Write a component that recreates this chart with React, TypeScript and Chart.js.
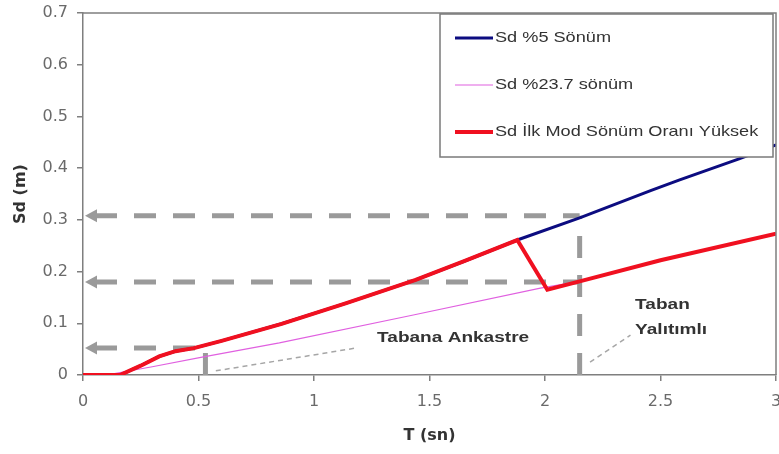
import React, { useEffect, useRef } from 'react';
import { Chart, registerables } from 'chart.js';

Chart.register(...registerables);

// ---- data ----
const seriesLabels = ['Sd %5 Sönüm', 'Sd %23.7 sönüm', 'Sd İlk Mod Sönüm Oranı Yüksek'];

const blueT = [0, 0.16, 0.25, 0.33, 0.4, 0.48, 0.6, 0.86, 1.14, 1.44, 1.65, 1.88, 2.15, 2.46, 2.58, 2.84, 3.0];
const blueSd = [0, 0, 0.018, 0.036, 0.046, 0.052, 0.066, 0.099, 0.139, 0.184, 0.22, 0.261, 0.304, 0.357, 0.377, 0.418, 0.445];

const pinkT = [0, 0.1, 0.3, 0.51, 0.85, 1.43, 1.98, 2.15, 2.5, 3.0];
const pinkSd = [0, 0, 0.016, 0.034, 0.062, 0.116, 0.168, 0.181, 0.222, 0.273];

const redT = [0, 0.16, 0.25, 0.33, 0.4, 0.48, 0.6, 0.86, 1.14, 1.44, 1.65, 1.88, 2.01, 2.15, 2.5, 3.0];
const redSd = [0, 0, 0.018, 0.036, 0.046, 0.052, 0.066, 0.099, 0.139, 0.184, 0.22, 0.261, 0.165, 0.181, 0.222, 0.273];

const xTicks = [0, 0.5, 1, 1.5, 2, 2.5, 3];
const yTicks = [0, 0.1, 0.2, 0.3, 0.4, 0.5, 0.6, 0.7];

// guide arrows (horizontal, pointing to the Sd axis)
const guideSd = [0.308, 0.18, 0.052];
const guideT = [2.15, 2.15, 0.53];
// vertical guides down to the T axis
const dropT = [2.15, 0.53];
const dropSd = [0.308, 0.052];
// notes
const noteLabels = ['Tabana Ankastre', 'Taban', 'Yalıtımlı'];
const noteT = [1.273, 2.39, 2.39];
const noteSd = [0.072, 0.135, 0.087];
// leader lines
const leaderFromT = [0.575, 2.195];
const leaderFromSd = [0.008, 0.025];
const leaderToT = [1.18, 2.37];
const leaderToSd = [0.052, 0.077];

const toPts = (xs: number[], ys: number[]) => xs.map((x, i) => ({ x, y: ys[i] }));
const fmt = (v: number) => String(Number(v.toFixed(2)));

const AXIS = '#7f7f7f';
const GUIDE = '#9a9a9a';

const guidesPlugin = {
  id: 'guides',
  beforeDatasetsDraw(chart: any) {
    const { ctx, chartArea } = chart;
    const x = chart.scales.x;
    const y = chart.scales.y;
    ctx.save();
    ctx.strokeStyle = GUIDE;
    ctx.fillStyle = GUIDE;
    ctx.lineWidth = 5;
    ctx.lineCap = 'butt';
    guideSd.forEach((v, i) => {
      const py = y.getPixelForValue(v);
      const x1 = x.getPixelForValue(guideT[i]);
      const x0 = chartArea.left + 12;
      ctx.setLineDash([22, 17]);
      ctx.beginPath();
      ctx.moveTo(x0, py);
      ctx.lineTo(x1, py);
      ctx.stroke();
      ctx.setLineDash([]);
      ctx.beginPath();
      ctx.moveTo(chartArea.left + 2, py);
      ctx.lineTo(chartArea.left + 14, py - 6.5);
      ctx.lineTo(chartArea.left + 14, py + 6.5);
      ctx.closePath();
      ctx.fill();
    });
    dropT.forEach((t, i) => {
      const px = x.getPixelForValue(t);
      ctx.setLineDash([22, 17]);
      ctx.beginPath();
      ctx.moveTo(px, y.getPixelForValue(0));
      ctx.lineTo(px, y.getPixelForValue(dropSd[i]));
      ctx.stroke();
    });
    ctx.strokeStyle = '#a6a6a6';
    ctx.lineWidth = 1.5;
    ctx.setLineDash([5, 4]);
    leaderFromT.forEach((t, i) => {
      ctx.beginPath();
      ctx.moveTo(x.getPixelForValue(t), y.getPixelForValue(leaderFromSd[i]));
      ctx.lineTo(x.getPixelForValue(leaderToT[i]), y.getPixelForValue(leaderToSd[i]));
      ctx.stroke();
    });
    ctx.setLineDash([]);
    ctx.fillStyle = '#333333';
    ctx.font = 'bold 15px "Liberation Sans", Arial, sans-serif';
    ctx.textBaseline = 'middle';
    ctx.textAlign = 'left';
    noteLabels.forEach((s, i) => {
      ctx.save();
      ctx.translate(x.getPixelForValue(noteT[i]), y.getPixelForValue(noteSd[i]));
      ctx.scale(1.27, 1);
      ctx.fillText(s, 0, 0);
      ctx.restore();
    });
    ctx.restore();
  },
  afterDraw(chart: any) {
    const { ctx, chartArea } = chart;
    ctx.save();
    // plot frame: top and right
    ctx.strokeStyle = AXIS;
    ctx.lineWidth = 1.5;
    ctx.beginPath();
    ctx.moveTo(chartArea.left, chartArea.top);
    ctx.lineTo(chartArea.right, chartArea.top);
    ctx.lineTo(chartArea.right, chartArea.bottom);
    ctx.stroke();
    // legend box
    const right = chartArea.right - 3;
    const left = right - 333;
    const top = chartArea.top + 1;
    const h = 143;
    ctx.fillStyle = '#ffffff';
    ctx.fillRect(left, top, right - left, h);
    ctx.strokeStyle = '#7a7a7a';
    ctx.lineWidth = 1.5;
    ctx.strokeRect(left, top, right - left, h);
    const dsOrder = [0, 1, 2];
    dsOrder.forEach((di, row) => {
      const ds = chart.data.datasets[di];
      const cy = top + 24 + row * 47;
      ctx.strokeStyle = ds.borderColor;
      ctx.lineWidth = ds.borderWidth;
      ctx.beginPath();
      ctx.moveTo(left + 15, cy);
      ctx.lineTo(left + 53, cy);
      ctx.stroke();
      ctx.save();
      ctx.fillStyle = '#333333';
      ctx.font = '15px "Liberation Sans", Arial, sans-serif';
      ctx.textBaseline = 'middle';
      ctx.textAlign = 'left';
      ctx.translate(left + 55, cy);
      ctx.scale(1.21, 1);
      ctx.fillText(ds.label, 0, 0);
      ctx.restore();
    });
    ctx.restore();
  },
};

export default function App() {
  const ref = useRef<HTMLCanvasElement | null>(null);
  useEffect(() => {
    if (!ref.current) return;
    const chart = new Chart(ref.current, {
      type: 'line',
      data: {
        datasets: [
          {
            label: seriesLabels[0],
            data: toPts(blueT, blueSd),
            borderColor: '#0c0c80',
            borderWidth: 3,
            pointRadius: 0,
            tension: 0,
            order: 1,
          },
          {
            label: seriesLabels[1],
            data: toPts(pinkT, pinkSd),
            borderColor: '#e060e0',
            borderWidth: 1.2,
            pointRadius: 0,
            tension: 0,
            order: 2,
          },
          {
            label: seriesLabels[2],
            data: toPts(redT, redSd),
            borderColor: '#f01020',
            borderWidth: 4,
            pointRadius: 0,
            tension: 0,
            order: 0,
          },
        ],
      },
      options: {
        animation: false,
        responsive: false,
        events: [],
        layout: { padding: { left: 0, right: 3, top: 13, bottom: 0 } },
        plugins: { legend: { display: false }, tooltip: { enabled: false } },
        scales: {
          x: {
            type: 'linear',
            min: 0,
            max: 3,
            afterBuildTicks: (s: any) => {
              s.ticks = xTicks.map((v) => ({ value: v }));
            },
            afterFit: (s: any) => {
              s.height = 79;
              s.paddingLeft = 0;
              s.paddingRight = 0;
            },
            grid: { drawOnChartArea: false, drawTicks: true, tickLength: 6, color: AXIS, lineWidth: 1.5 },
            border: { display: true, color: AXIS, width: 1.5 },
            ticks: {
              padding: 11,
              maxRotation: 0,
              color: '#6a6a6a',
              font: { family: '"DejaVu Sans", sans-serif', size: 16 },
              callback: (v: any) => fmt(Number(v)),
            },
            title: {
              display: true,
              text: 'T (sn)',
              color: '#333333',
              font: { family: '"DejaVu Sans", sans-serif', size: 16, weight: 'bold' },
              padding: { top: 0, bottom: 9 },
            },
          },
          y: {
            type: 'linear',
            min: 0,
            max: 0.7,
            afterBuildTicks: (s: any) => {
              s.ticks = yTicks.map((v) => ({ value: v }));
            },
            afterFit: (s: any) => {
              s.width = 83;
              s.paddingTop = 0;
              s.paddingBottom = 0;
            },
            grid: { drawOnChartArea: false, drawTicks: true, tickLength: 6, color: AXIS, lineWidth: 1.5 },
            border: { display: true, color: AXIS, width: 1.5 },
            ticks: {
              padding: 9,
              color: '#6a6a6a',
              font: { family: '"DejaVu Sans", sans-serif', size: 16 },
              callback: (v: any) => fmt(Number(v)),
            },
            title: {
              display: true,
              text: 'Sd (m)',
              color: '#333333',
              font: { family: '"DejaVu Sans", sans-serif', size: 16, weight: 'bold' },
              padding: { top: 11, bottom: 0 },
            },
          },
        },
      },
      plugins: [guidesPlugin],
    } as any);
    return () => chart.destroy();
  }, []);
  return (
    <div style={{ position: 'absolute', left: 0, top: 0, width: 779, height: 454, background: '#ffffff' }}>
      <canvas ref={ref} width={779} height={454} style={{ display: 'block' }} />
    </div>
  );
}
